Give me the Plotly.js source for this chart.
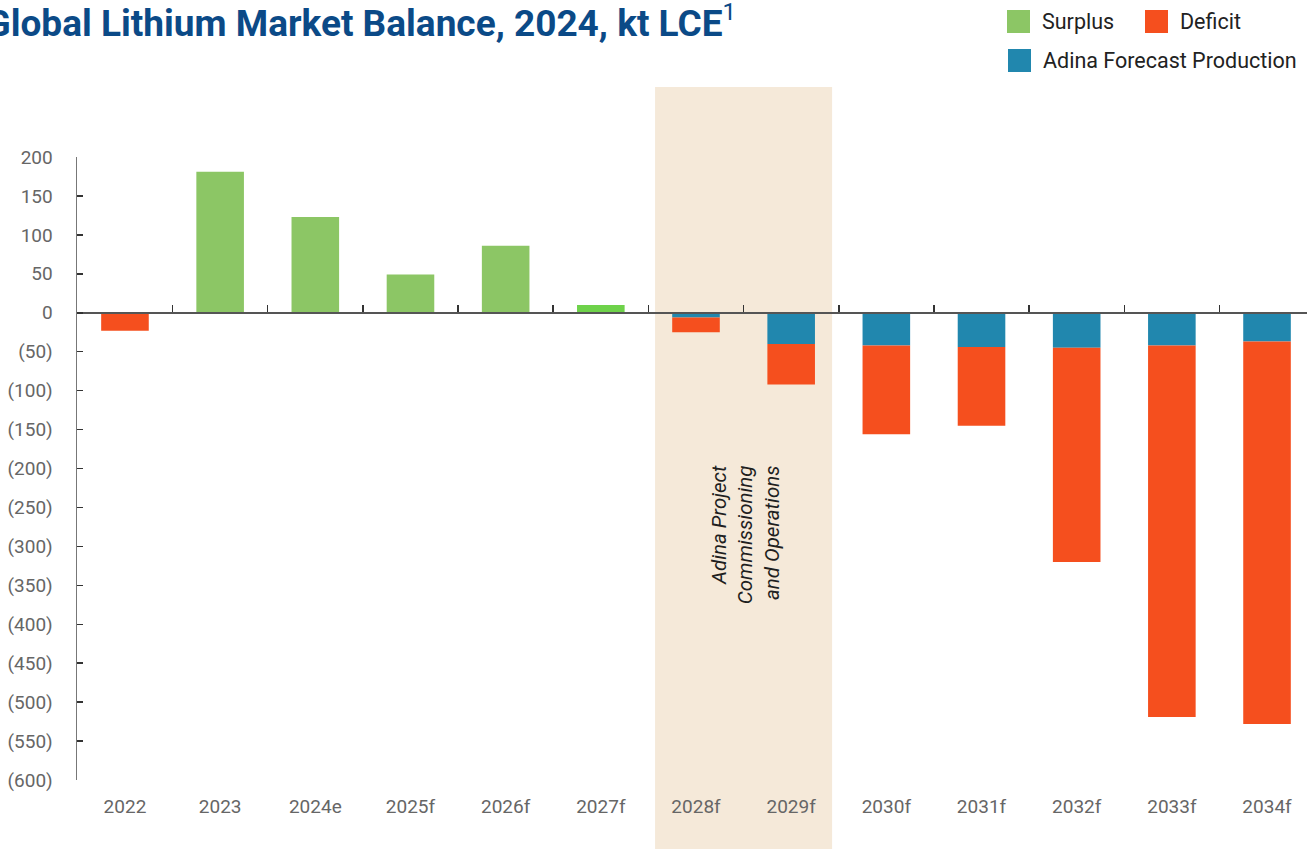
<!DOCTYPE html>
<html>
<head>
<meta charset="utf-8">
<script src="https://cdn.plot.ly/plotly-3.0.1.min.js"></script>
<style>
  body { margin: 0; background: #fff; }
  #chart { width: 1307px; height: 849px; }
</style>
</head>
<body>
<div id="chart"></div>
<script>
// Chart data (kt LCE)
var years = ['2022', '2023', '2024e', '2025f', '2026f', '2027f', '2028f', '2029f', '2030f', '2031f', '2032f', '2033f', '2034f'];
var surplus = [null, 181, 123, 49, 86, 10, null, null, null, null, null, null, null];
var adina = [null, null, null, null, null, null, -6, -40, -42, -44, -45, -42, -37];
var deficit = [-23, null, null, null, null, null, -19, -52, -114, -101, -275, -477, -491];

var yTicks = [200, 150, 100, 50, 0, -50, -100, -150, -200, -250, -300, -350, -400, -450, -500, -550, -600];
var yTickText = yTicks.map(function (v) { return v < 0 ? '(' + (-v) + ')' : String(v); });

var legendNames = ['Surplus', 'Deficit', 'Adina Forecast Production'];

// Colours
var green = '#8cc665';
var greenBright = '#6ed24a';
var red = '#f54f1e';
var blue = '#2187ae';
var shade = '#f5e9d9';
var surplusColors = years.map(function (y) { return y === '2027f' ? greenBright : green; });

var font = 'Roboto, "Noto Sans", sans-serif';

var data = [
  {
    type: 'bar', name: 'Surplus', x: years, y: surplus,
    marker: { color: surplusColors }, width: 0.5, showlegend: false, hoverinfo: 'x+y'
  },
  {
    type: 'bar', name: 'Adina Forecast Production', x: years, y: adina,
    marker: { color: blue }, width: 0.5, showlegend: false, hoverinfo: 'x+y'
  },
  {
    type: 'bar', name: 'Deficit', x: years, y: deficit,
    marker: { color: red }, width: 0.5, showlegend: false, hoverinfo: 'x+y'
  },
  // carrier for the zero axis (x2) with the category boundary ticks
  {
    type: 'scatter', mode: 'markers', x: years, y: years.map(function () { return 0; }),
    xaxis: 'x2', yaxis: 'y', marker: { opacity: 0 }, hoverinfo: 'skip', showlegend: false
  }
];

// pixel helpers for paper placement (plot area 77..1307 x 157..780)
function px(x) { return (x - 77) / 1230; }
function py(y) { return (780 - y) / 623; }

var shapes = [{
  type: 'rect', layer: 'below', xref: 'x', yref: 'paper',
  x0: 5.57, x1: 7.43, y0: py(849), y1: py(87),
  fillcolor: shade, line: { width: 0 }
}];

// Legend drawn as swatches + labels
var legendColors = [green, red, blue];
var legendPos = [[1007, 10], [1145, 10], [1008, 49]];
var annotations = [];
legendNames.forEach(function (name, i) {
  var p = legendPos[i];
  shapes.push({
    type: 'rect', xref: 'paper', yref: 'paper',
    x0: px(p[0]), x1: px(p[0] + 23), y0: py(p[1] + 23), y1: py(p[1]),
    fillcolor: legendColors[i], line: { width: 0 }
  });
  annotations.push({
    xref: 'paper', yref: 'paper', x: px(p[0] + 33), y: py(p[1] + 11.5),
    xanchor: 'left', yanchor: 'middle', showarrow: false, text: name,
    font: { family: font, size: 21.5, color: '#222' }
  });
});

annotations.push({
  xref: 'x', yref: 'y', x: 6.52, y: -285, textangle: -90, showarrow: false,
  align: 'right', text: 'Adina Project<br>Commissioning<br>and Operations',
  font: { family: font, size: 20.5, color: '#1f1f1f', style: 'italic' }
});

var layout = {
  width: 1307,
  height: 849,
  margin: { l: 77, r: 0, t: 157, b: 69 },
  paper_bgcolor: '#fff',
  plot_bgcolor: 'rgba(0,0,0,0)',
  barmode: 'relative',
  showlegend: false,
  title: {
    text: 'Global Lithium Market Balance, 2024, kt LCE<sup><span style="font-weight:normal;font-size:24px">1</span></sup>',
    xref: 'paper', x: px(736), xanchor: 'right',
    yref: 'container', y: 1 - 23 / 849, yanchor: 'middle',
    font: { family: font, size: 37, weight: 'bold', color: '#0b4a87' }
  },
  xaxis: {
    type: 'category', categoryarray: years, range: [-0.504, 12.42],
    showline: false, ticks: '', showgrid: false, zeroline: false,
    tickfont: { family: font, size: 19, color: '#666' },
    ticklabelstandoff: 13, fixedrange: true
  },
  xaxis2: {
    type: 'category', categoryarray: years, range: [-0.504, 12.42],
    overlaying: 'x', anchor: 'free', position: 0.75,
    showline: true, linecolor: '#555', linewidth: 2,
    ticks: 'inside', tickson: 'boundaries', ticklen: 7, tickcolor: '#333', tickwidth: 1.5,
    showticklabels: false, showgrid: false, zeroline: false
  },
  yaxis: {
    range: [-600, 200], tickvals: yTicks, ticktext: yTickText,
    ticks: 'inside', ticklen: 6, tickcolor: '#333', tickwidth: 1.5,
    showline: true, linecolor: '#777', linewidth: 1.5,
    showgrid: false, zeroline: false,
    tickfont: { family: font, size: 19, color: '#666' },
    ticklabelstandoff: 19
  },
  shapes: shapes,
  annotations: annotations
};

Plotly.newPlot('chart', data, layout, { displayModeBar: false, staticPlot: true });
</script>
</body>
</html>
